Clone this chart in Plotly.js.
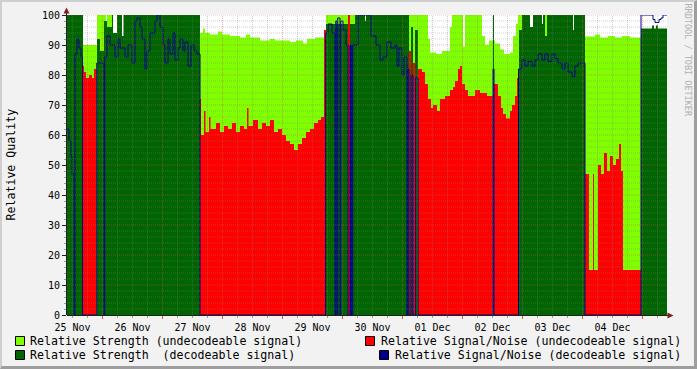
<!DOCTYPE html>
<html><head><meta charset="utf-8">
<script src="https://cdn.plot.ly/plotly-3.0.1.min.js"></script>
<style>
html,body{margin:0;padding:0;background:#f2f2f2;}
#wrap{position:relative;width:697px;height:369px;overflow:hidden;}
#chart{width:697px;height:369px;}
#frame{position:absolute;left:0;top:0;width:697px;height:369px;box-sizing:border-box;border-top:2px solid #cfcfcf;border-left:2px solid #cfcfcf;border-right:3px solid #9e9e9e;border-bottom:3px solid #9e9e9e;pointer-events:none;}
</style></head>
<body><div id="wrap"><div id="chart"></div><div id="frame"></div></div>
<script>
// time in hours since 25 Nov 00:00; each value holds until the next time (step)
const strengthU_t = [9.8, 16.2, 21.8, 25.4, 25.8, 27.8, 63.0, 64.2, 65.0, 67.0, 70.2, 71.8, 75.0, 79.0, 81.4, 83.0, 87.0, 91.0, 93.0, 99.0, 101.4, 104.2, 105.8, 109.0, 112.6, 113.4, 122.2, 125.0, 145.8, 154.2, 155.0, 157.4, 159.8, 163.0, 163.8, 168.2, 169.0, 175.8, 177.0, 178.6, 181.0, 183.0, 184.6, 187.0, 188.2, 189.4, 190.2, 191.8, 201.0, 201.8, 217.0, 221.0, 223.0, 226.2, 229.0, 231.8, 235.0, 239.4, 249.8];
const strengthU_v = [0, 90, 100, 0, 100, 0, 94, 95.5, 94, 93.5, 94.5, 93.5, 93, 92.5, 93.5, 92.5, 91.5, 92, 91.5, 91, 91.5, 90.5, 92, 92.5, 95, 100, 100, 0, 100, 92, 87.5, 87, 88, 96, 100, 89.5, 100, 93, 90, 91.5, 90.5, 88.5, 87, 87.5, 93, 97, 100, 0, 100, 0, 92.8, 93.5, 92.5, 93, 92.5, 93, 92.5, 0, 0];

const snrU_t = [9.8, 16.2, 16.6, 17.4, 18.6, 19.8, 20.6, 21.6, 63.0, 63.4, 64.6, 65.2, 66.6, 67.2, 69.4, 71.0, 72.6, 74.2, 75.8, 77.4, 79.0, 80.6, 81.8, 82.4, 84.2, 86.2, 87.8, 89.4, 91.0, 92.6, 94.2, 95.8, 97.4, 99.0, 100.6, 102.2, 103.8, 105.4, 107.0, 108.6, 110.2, 111.4, 112.6, 113.4, 122.2, 123.0, 146.6, 147.4, 148.2, 149.0, 150.2, 151.8, 153.0, 154.2, 155.4, 156.2, 157.8, 159.0, 161.0, 163.0, 164.2, 165.0, 166.2, 167.0, 167.8, 169.0, 170.2, 173.0, 175.0, 177.8, 180.2, 180.6, 182.2, 183.4, 184.2, 185.4, 187.0, 187.8, 189.0, 189.8, 190.6, 217.0, 218.6, 220.2, 220.6, 222.2, 223.4, 224.6, 225.8, 227.0, 228.2, 229.4, 230.6, 231.4, 232.2, 239.4, 249.8];
const snrU_v = [0, 83, 81, 79, 80, 79, 82, 0, 72, 60, 68, 61, 66, 62, 64, 61, 63, 62, 64, 61, 63, 62, 69, 63, 65, 62, 64, 63, 65, 61, 62, 60, 58, 57, 55, 57, 59, 61, 62, 64, 65, 66, 95, 0, 100, 0, 88, 0, 84, 0, 82, 81, 77, 72, 69, 70, 68, 72, 73, 75, 76, 78, 82, 83, 77, 75, 73, 75, 74, 73, 0, 77, 73, 69, 67, 65.5, 68, 70, 73, 79, 0, 47, 15, 47, 15, 50, 47, 54, 48, 53, 50, 52, 57, 48, 15, 0, 0];

const strengthD_t = [9.8, 16.2, 21.8, 23.0, 24.6, 25.8, 27.8, 28.2, 29.8, 31.8, 32.4, 63.0, 113.4, 122.2, 123.0, 125.0, 129.0, 129.4, 146.6, 147.4, 148.2, 149.0, 150.2, 180.2, 180.6, 190.6, 191.8, 195.0, 196.2, 199.8, 200.2, 201.0, 201.8, 212.2, 212.6, 217.0, 239.4, 243.8, 244.6, 245.4, 246.2, 249.8];
const strengthD_v = [100, 0, 92, 88, 98, 96, 100, 94, 100, 93, 100, 0, 97, 0, 97, 100, 98, 100, 0, 96, 0, 95, 0, 100, 0, 95, 100, 96, 100, 97, 100, 93, 100, 95, 100, 0, 95.5, 96.5, 95.5, 96.5, 95.5, 95.5];

const snrD_t = [9.8, 10.6, 11.4, 11.8, 12.6, 13.0, 13.8, 14.6, 15.4, 16.0, 21.7, 24.6, 24.9, 25.8, 27.0, 29.0, 30.2, 31.0, 33.0, 34.2, 35.8, 37.0, 37.8, 39.0, 39.8, 41.0, 41.8, 43.0, 45.0, 45.8, 47.0, 48.2, 49.0, 50.2, 51.0, 52.2, 53.0, 54.2, 55.0, 56.2, 57.0, 58.2, 59.4, 60.6, 61.8, 63.0, 113.2, 114.2, 115.8, 117.0, 117.3, 117.8, 118.1, 119.0, 119.3, 120.2, 121.4, 122.2, 123.0, 123.2, 123.5, 123.8, 124.1, 126.2, 131.4, 133.4, 135.0, 136.2, 137.8, 139.4, 141.0, 141.8, 142.6, 143.8, 144.6, 145.8, 146.1, 146.6, 147.4, 148.2, 149.2, 150.2, 180.2, 180.6, 190.4, 191.8, 193.0, 194.2, 195.8, 197.0, 198.2, 199.8, 201.0, 202.2, 203.8, 205.0, 206.2, 207.8, 209.0, 210.2, 211.8, 213.0, 214.2, 217.0, 239.4, 244.2, 245.0, 246.6, 247.4, 248.2, 249.8];
const snrD_v = [62, 58, 53, 47, 0, 87, 92, 89, 86, 0, 84, 0, 86, 93, 90, 86, 92, 89, 86, 90, 84, 98, 99, 96, 92, 82, 88, 94, 98, 100, 96, 90, 84, 92, 87, 94, 85, 89, 92, 88, 91, 83, 90, 88, 87, 0, 94, 97, 94, 0, 98, 0, 99, 0, 98, 95, 90, 0, 90, 0, 90, 0, 90, 100, 93, 90, 85, 86, 91, 89, 90, 83, 89, 80, 86, 0, 82, 0, 80, 0, 79, 0, 82, 0, 82, 85, 83, 84.5, 83, 85, 87, 85, 87, 84.5, 87, 85.5, 84, 82, 84, 81, 79.5, 83, 84, 0, 100, 98.5, 97.5, 98.5, 99, 100, 100];

const legendLabels = [
  "Relative Strength (undecodeable signal)",
  "Relative Signal/Noise (undecodeable signal)",
  "Relative Strength\u00A0 (decodeable signal)",
  "Relative Signal/Noise (decodeable signal)"
];
const colors = {lg:'#7fff00', red:'#ff0000', dg:'#006400', blue:'#00008b'};

const H = 3600000;
const base = Date.UTC(2008, 10, 25);
const toT = arr => arr.map(h => base + h * H);
const xStart = base + 9.8 * H, xEnd = base + 249.8 * H;

function area(t, v, c) {
  return {x: toT(t), y: v, type:'scatter', mode:'lines', line:{shape:'hv', width:0, color:c}, fill:'tozeroy', fillcolor:c, hoverinfo:'skip'};
}
const traces = [
  area(strengthU_t, strengthU_v, colors.lg),
  area(snrU_t, snrU_v, colors.red),
  area(strengthD_t, strengthD_v, colors.dg),
  {x: toT(snrD_t), y: snrD_v, type:'scatter', mode:'lines', line:{shape:'hv', width:1, color:colors.blue}, hoverinfo:'skip'}
];

// layout helpers (pixel -> paper)
const L = 67, T = 15, W = 600, Hh = 300;
const px = x => (x - L) / W;
const py = y => (T + Hh - y) / Hh;

const GRID = 'rgba(130,130,130,0.38)';
const MGRID = 'rgba(222,79,79,0.45)';
const shapes = [];
for (let h = 0; h <= 252; h += 6) {
  const t = base + h * H;
  if (t <= xStart || t >= xEnd || h % 24 === 0) continue;
  shapes.push({type:'line', layer:'above', xref:'x', yref:'paper', x0:t, x1:t, y0:0, y1:1, line:{color:GRID, width:1, dash:'1px,1px'}});
}
for (let v = 2; v < 100; v += 2) {
  if (v % 10 === 0) continue;
  shapes.push({type:'line', layer:'above', xref:'paper', yref:'y', x0:0, x1:1, y0:v, y1:v, line:{color:GRID, width:1, dash:'1px,1px'}});
}
for (let h = 0; h <= 252; h += 24) {
  const t = base + h * H;
  if (t <= xStart || t >= xEnd) continue;
  shapes.push({type:'line', layer:'above', xref:'x', yref:'paper', x0:t, x1:t, y0:0, y1:1, line:{color:MGRID, width:1, dash:'1px,1px'}});
}
for (let v = 10; v <= 100; v += 10) {
  shapes.push({type:'line', layer:'above', xref:'paper', yref:'y', x0:0, x1:1, y0:v, y1:v, line:{color:MGRID, width:1, dash:'1px,1px'}});
}
// axis extensions and arrows
shapes.push({type:'line', layer:'above', xref:'paper', yref:'paper', x0:px(66.5), x1:px(66.5), y0:py(315), y1:py(12), line:{color:'#1f1f1f', width:1}});
shapes.push({type:'line', layer:'above', xref:'paper', yref:'paper', x0:px(67), x1:px(669), y0:py(315.5), y1:py(315.5), line:{color:'#1f1f1f', width:1}});
shapes.push({type:'path', layer:'above', xref:'paper', yref:'paper', path:`M ${px(63.5)} ${py(13.5)} L ${px(69.5)} ${py(13.5)} L ${px(66.5)} ${py(7.5)} Z`, fillcolor:'#801f1f', line:{width:0}});
shapes.push({type:'path', layer:'above', xref:'paper', yref:'paper', path:`M ${px(667.5)} ${py(312.5)} L ${px(667.5)} ${py(318.5)} L ${px(673.5)} ${py(315.5)} Z`, fillcolor:'#801f1f', line:{width:0}});
// legend boxes
function box(x, y, c) {
  shapes.push({type:'rect', xref:'paper', yref:'paper', x0:px(x), x1:px(x + 9), y0:py(y), y1:py(y + 9), fillcolor:c, line:{color:'#000', width:1}});
}
box(15.5, 336.5, colors.lg);
box(365.5, 336.5, colors.red);
box(15.5, 350.5, colors.dg);
box(379.5, 350.5, colors.blue);

const mono = 'DejaVu Sans Mono';
const annotations = [
  {text:legendLabels[0], x:px(30), y:py(341), xanchor:'left', yanchor:'middle'},
  {text:legendLabels[1], x:px(681), y:py(341), xanchor:'right', yanchor:'middle'},
  {text:legendLabels[2], x:px(30), y:py(355), xanchor:'left', yanchor:'middle'},
  {text:legendLabels[3], x:px(681), y:py(355), xanchor:'right', yanchor:'middle'}
].map(a => Object.assign(a, {xref:'paper', yref:'paper', showarrow:false, borderpad:0, borderwidth:0, font:{family:mono, size:11.6, color:'#000'}}));
annotations.push({text:'Relative Quality', xref:'paper', yref:'paper', x:px(10.5), y:0.5, textangle:-90, showarrow:false, xanchor:'center', yanchor:'middle', borderpad:0, font:{family:mono, size:11.6, color:'#000'}});
annotations.push({text:'RRDTOOL / TOBI OETIKER', xref:'paper', yref:'paper', x:px(687.5), y:py(60), textangle:90, showarrow:false, xanchor:'center', yanchor:'middle', borderpad:0, font:{family:mono, size:8.5, color:'#b0b0b0'}});

const tickFont = {family:mono, size:10, color:'#000'};
const layout = {
  width:697, height:369,
  margin:{l:L, r:697 - L - W, t:T, b:369 - T - Hh, pad:0},
  paper_bgcolor:'#f2f2f2', plot_bgcolor:'#ffffff',
  showlegend:false, hovermode:false,
  xaxis:{type:'date', range:[xStart, xEnd], tickmode:'linear', tick0:base, dtick:86400000,
    ticklabelmode:'period', tickformat:'%d %b', ticks:'outside', ticklen:3, tickwidth:1, tickcolor:'#de4f4f',
    showgrid:false, zeroline:false, showline:false, tickfont:tickFont, fixedrange:true,
    minor:{tick0:base, dtick:6 * H, ticks:'outside', ticklen:2, tickcolor:'#a0a0a0', showgrid:false}},
  yaxis:{range:[0, 100], tickmode:'linear', tick0:0, dtick:10, ticks:'outside', ticklen:4, tickcolor:'#1f1f1f',
    showgrid:false, zeroline:false, showline:false, tickfont:tickFont, fixedrange:true,
    minor:{dtick:2, ticks:'outside', ticklen:2, tickcolor:'#a0a0a0', showgrid:false}},
  shapes, annotations
};
Plotly.newPlot('chart', traces, layout, {displayModeBar:false, staticPlot:true});
</script></body></html>
